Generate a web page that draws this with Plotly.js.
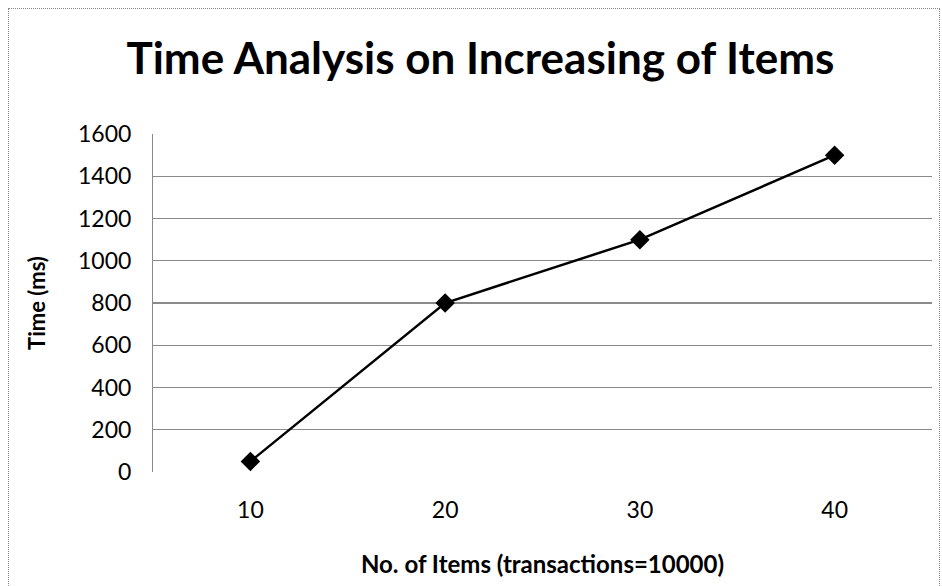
<!DOCTYPE html>
<html>
<head>
<meta charset="utf-8">
<script src="https://cdn.plot.ly/plotly-3.0.1.min.js"></script>
<style>
  html, body { margin: 0; padding: 0; background: #fff; }
  #wrap { position: relative; width: 942px; height: 586px; }
  #frame { position: absolute; left: 8px; top: 8px; width: 932px; height: 590px; border: 1px dotted #888; box-sizing: border-box; pointer-events: none; }
  #chart { position: absolute; left: 0; top: 0; width: 942px; height: 586px; }
</style>
</head>
<body>
<div id="wrap">
  <div id="chart"></div>
  <div id="frame"></div>
</div>
<script>
const categories = ["10", "20", "30", "40"];
const timeMs = [50, 800, 1100, 1500];
const yTicks = [0, 200, 400, 600, 800, 1000, 1200, 1400, 1600];

const trace = {
  x: categories,
  y: timeMs,
  type: "scatter",
  mode: "lines+markers",
  line: { color: "#000", width: 2.5 },
  marker: { symbol: "diamond", size: 15, color: "#000" },
  hoverinfo: "skip"
};

const layout = {
  width: 942,
  height: 586,
  margin: { l: 153, r: 10, t: 134, b: 114 },
  paper_bgcolor: "#fff",
  plot_bgcolor: "#fff",
  showlegend: false,
  font: { family: "Lato, 'Open Sans', sans-serif", color: "#000" },
  title: {
    text: "<b>Time Analysis on Increasing of Items</b>",
    font: { family: "Lato, sans-serif", size: 44, color: "#000" },
    x: 0.51, xref: "container", xanchor: "center",
    y: 0.9, yref: "container", yanchor: "middle"
  },
  xaxis: {
    type: "category",
    range: [-0.5, 3.5],
    showgrid: false,
    zeroline: false,
    showline: false,
    ticks: "",
    ticklabelstandoff: 22,
    tickfont: { size: 23, color: "#000" },
    title: {
      text: "<b>No. of Items (transactions=10000)</b>",
      font: { size: 24, color: "#000" },
      standoff: 34
    }
  },
  yaxis: {
    range: [0, 1600],
    tickvals: yTicks,
    ticktext: yTicks.map(String),
    showgrid: true,
    gridcolor: "#8a8a8a",
    gridwidth: 1.2,
    zeroline: false,
    showline: true,
    linecolor: "#8a8a8a",
    linewidth: 1,
    ticks: "",
    ticklabelstandoff: 16,
    tickfont: { size: 23, color: "#000" },
    title: {
      text: "<b>Time (ms)</b>",
      font: { size: 22, color: "#000" },
      standoff: 26
    }
  }
};

Plotly.newPlot("chart", [trace], layout, { displayModeBar: false, staticPlot: true });
</script>
</body>
</html>
